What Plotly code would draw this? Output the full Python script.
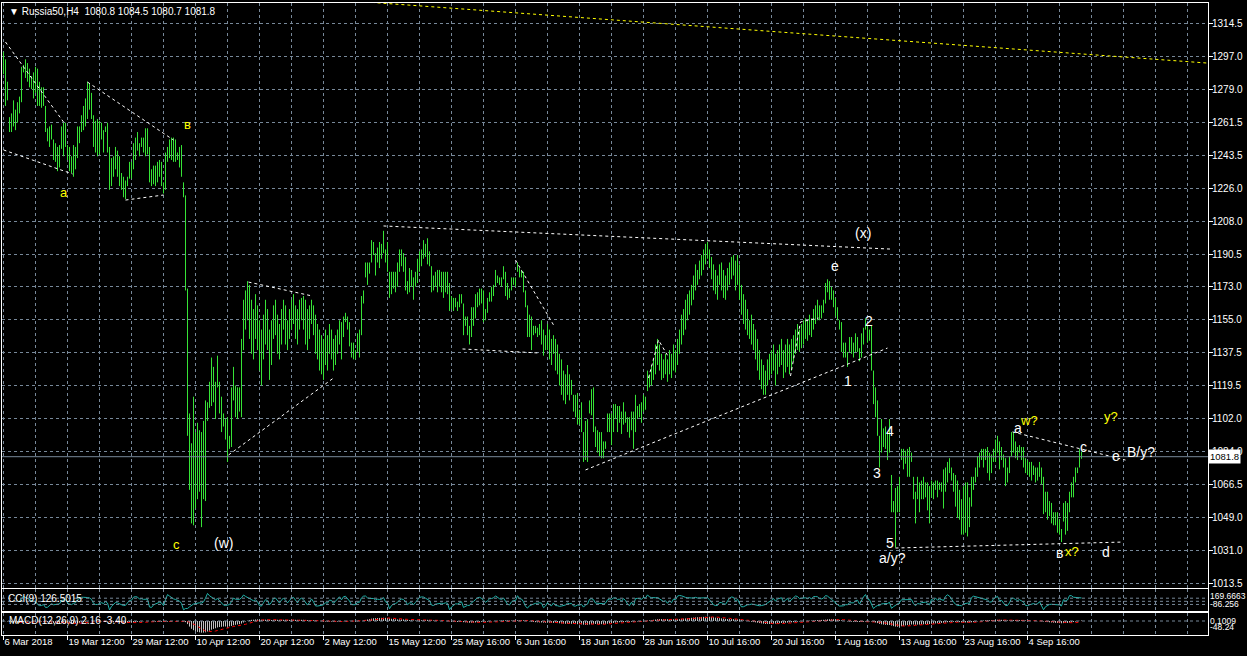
import numpy as np
import plotly.graph_objects as go

# ---------------- data ----------------
symbol = "Russia50,H4"
last_ohlc = [1080.8, 1084.5, 1080.7, 1081.8]
cci_last = "126.5015"
macd_last = ["2.16", "-3.40"]

highs = [
 1299,1295,1283,1264,1266,1273,1268,1272,1275,1291, 1292,1295,1293,1290,1286,1288,1291,1290,1283,1280,
 1280,1270,1258,1259,1260,1252,1250,1248,1249,1259, 1261,1261,1249,1248,1243,1249,1248,1259,1259,1265,
 1270,1274,1283,1282,1277,1265,1262,1263,1262,1261, 1257,1259,1261,1248,1242,1243,1248,1246,1243,1234,
 1232,1230,1232,1240,1240,1250,1253,1256,1250,1253, 1253,1258,1258,1248,1236,1238,1238,1240,1241,1240,
 1229,1245,1248,1252,1253,1253,1252,1245,1248,1249, 1229,1222,1172,1105,1089,1114,1095,1100,1096,1095,
 1101,1112,1111,1122,1135,1130,1122,1136,1122,1114, 1105,1102,1103,1093,1119,1130,1120,1119,1119,1145,
 1166,1171,1176,1174,1166,1161,1169,1163,1155,1150, 1158,1166,1161,1150,1155,1163,1166,1158,1153,1161,
 1166,1163,1155,1161,1166,1169,1163,1161,1166,1167, 1168,1166,1161,1163,1166,1163,1158,1153,1150,1147,
 1145,1150,1147,1153,1150,1145,1147,1150,1155,1154, 1157,1159,1157,1154,1143,1143,1139,1148,1150,1168,
 1171,1186,1186,1186,1198,1197,1191,1194,1197,1196, 1203,1193,1197,1181,1181,1181,1181,1186,1193,1193,
 1191,1189,1176,1183,1182,1178,1181,1188,1192,1193, 1198,1196,1199,1192,1184,1179,1181,1182,1182,1181,
 1181,1181,1181,1175,1168,1167,1167,1165,1169,1169, 1164,1157,1157,1152,1162,1162,1169,1170,1172,1172,
 1171,1161,1167,1170,1173,1174,1182,1179,1178,1178, 1184,1181,1175,1172,1178,1178,1178,1186,1183,1182,
 1181,1171,1163,1158,1157,1152,1152,1151,1153,1155, 1150,1147,1153,1150,1145,1147,1145,1142,1137,1134,
 1128,1126,1131,1126,1123,1115,1115,1116,1107,1111, 1095,1101,1102,1112,1118,1119,1098,1096,1095,1095,
 1090,1090,1105,1105,1105,1110,1110,1109,1109,1106, 1111,1106,1103,1103,1106,1106,1115,1109,1110,1111,
 1115,1114,1128,1126,1131,1134,1142,1145,1142,1137, 1134,1137,1134,1139,1137,1142,1139,1145,1150,1158,
 1161,1166,1169,1171,1174,1179,1185,1182,1187,1190, 1193,1196,1197,1193,1189,1185,1182,1179,1185,1186,
 1182,1179,1183,1186,1189,1190,1187,1190,1185,1174, 1169,1166,1161,1155,1158,1153,1150,1145,1139,1134,
 1131,1128,1134,1137,1139,1142,1137,1139,1142,1145, 1139,1142,1145,1142,1145,1147,1150,1153,1150,1153,
 1155,1156,1155,1158,1156,1161,1163,1166,1163,1163, 1166,1175,1177,1176,1173,1171,1167,1162,1155,1154,
 1143,1143,1138,1146,1146,1143,1148,1146,1140,1148, 1151,1156,1152,1150,1152,1128,1119,1112,1093,1102,
 1097,1098,1095,1102,1072,1058,1065,1066,1071,1086, 1086,1085,1086,1087,1084,1071,1063,1071,1068,1069,
 1071,1068,1068,1066,1069,1068,1069,1069,1068,1068, 1075,1076,1079,1081,1076,1073,1072,1069,1064,1059,
 1066,1068,1068,1060,1071,1071,1076,1082,1084,1086, 1086,1086,1087,1084,1083,1086,1091,1093,1090,1087,
 1083,1081,1076,1082,1095,1095,1090,1087,1088,1087, 1087,1081,1080,1079,1079,1077,1076,1076,1079,1076,
 1071,1063,1063,1058,1057,1052,1052,1052,1048,1043, 1057,1058,1057,1063,1068,1071,1076,1076,1086,1084.5,
]
lows = [
 1287,1270,1273,1256,1256,1259,1257,1261,1266,1272, 1288,1285,1283,1280,1279,1274,1277,1270,1270,1269,
 1270,1256,1251,1248,1252,1241,1240,1235,1237,1247, 1243,1248,1241,1235,1234,1232,1236,1242,1250,1256,
 1257,1259,1263,1268,1263,1248,1245,1243,1244,1252, 1245,1256,1245,1225,1227,1232,1236,1232,1227,1225,
 1221,1220,1227,1231,1231,1236,1241,1246,1243,1248, 1245,1243,1244,1229,1227,1228,1227,1229,1232,1227,
 1223,1225,1240,1242,1241,1240,1240,1241,1237,1232, 1221,1171,1093,1064,1046,1045,1054,1059,1063,1044,
 1059,1058,1101,1108,1109,1111,1102,1119,1105,1095, 1098,1091,1079,1086,1087,1112,1103,1102,1106,1103,
 1139,1150,1155,1145,1137,1134,1145,1139,1128,1120, 1134,1142,1139,1123,1131,1145,1147,1137,1134,1142,
 1150,1142,1139,1145,1150,1153,1145,1142,1150,1155, 1150,1142,1139,1145,1153,1147,1137,1134,1128,1126,
 1123,1131,1128,1137,1134,1128,1131,1137,1142,1134, 1146,1154,1150,1141,1135,1134,1134,1138,1135,1147,
 1164,1178,1174,1180,1186,1190,1179,1186,1183,1188, 1191,1186,1181,1167,1169,1172,1170,1173,1181,1184,
 1181,1171,1169,1170,1173,1166,1173,1175,1181,1184, 1188,1189,1185,1184,1170,1171,1173,1170,1173,1170,
 1167,1170,1169,1160,1161,1160,1162,1160,1162,1164, 1147,1152,1147,1142,1146,1152,1156,1162,1163,1164,
 1154,1155,1159,1165,1165,1168,1173,1175,1174,1173, 1177,1168,1166,1167,1171,1174,1173,1181,1178,1178,
 1170,1162,1146,1146,1139,1147,1148,1146,1147,1142, 1136,1139,1139,1134,1131,1137,1128,1126,1120,1115,
 1112,1110,1115,1112,1115,1106,1103,1099,1099,1095, 1079,1080,1079,1105,1104,1095,1087,1084,1082,1081,
 1081,1086,1095,1095,1088,1095,1102,1095,1100,1094, 1099,1100,1095,1092,1096,1086,1095,1102,1103,1100,
 1106,1107,1117,1119,1120,1123,1126,1131,1128,1123, 1124,1126,1122,1126,1124,1128,1127,1131,1137,1142,
 1147,1150,1155,1158,1163,1166,1171,1174,1177,1179, 1182,1185,1188,1183,1177,1171,1169,1166,1174,1171,
 1167,1166,1171,1174,1177,1179,1171,1174,1166,1158, 1153,1150,1147,1145,1142,1139,1134,1128,1123,1118,
 1115,1115,1120,1123,1126,1128,1120,1126,1130,1131, 1124,1127,1130,1126,1128,1133,1137,1139,1138,1140,
 1142,1145,1144,1147,1146,1150,1153,1155,1155,1156, 1159,1164,1170,1166,1166,1162,1157,1155,1150,1138,
 1135,1135,1130,1138,1137,1135,1138,1138,1133,1135, 1142,1150,1143,1144,1128,1110,1103,1093,1076,1084,
 1087,1086,1080,1084,1052,1052,1033,1052,1052,1080, 1075,1078,1071,1071,1079,1059,1046,1059,1052,1059,
 1059,1060,1053,1046,1060,1059,1064,1060,1064,1063, 1054,1063,1068,1073,1069,1063,1055,1049,1048,1040,
 1040,1041,1039,1044,1055,1064,1068,1071,1076,1080, 1076,1080,1073,1069,1073,1079,1079,1084,1075,1080,
 1076,1066,1068,1073,1082,1084,1081,1080,1084,1080, 1076,1073,1072,1071,1069,1072,1068,1069,1071,1067,
 1051,1052,1048,1050,1046,1045,1045,1041,1040,1036, 1047,1040,1042,1052,1060,1060,1068,1073,1076,1080.7,
]

price_tick_labels = ["1314.5", "1297.0", "1279.0", "1261.5", "1243.5", "1226.0", "1208.0",
                     "1190.5", "1173.0", "1155.0", "1137.5", "1119.5", "1102.0", "1084.0",
                     "1066.5", "1049.0", "1031.0", "1013.5"]
date_labels = ["6 Mar 2018", "19 Mar 12:00", "29 Mar 12:00", "10 Apr 12:00", "20 Apr 12:00",
               "2 May 12:00", "15 May 12:00", "25 May 16:00", "6 Jun 16:00", "18 Jun 16:00",
               "28 Jun 16:00", "10 Jul 16:00", "20 Jul 16:00", "1 Aug 16:00", "13 Aug 16:00",
               "23 Aug 16:00", "4 Sep 16:00"]

# hand-drawn trend lines (bar index, price)
trend_idx = [[1, 30], [42, 85], [0, 34.5], [61, 80], [112.5, 165], [122.5, 154.5],
             [190, 443.5], [229.5, 268.5], [256, 275], [291, 442],
             [322.5, 327.5, 332.5], [393.5, 398.5, 407.5], [504.5, 561], [446, 559.5]]
trend_price = [[1304.3, 1261.4], [1282.8, 1251.7], [1246.4, 1233.5], [1219.5, 1222.2],
               [1082.7, 1124.0], [1175.5, 1168.0], [1205.6, 1193.2], [1139.6, 1137.4],
               [1187.3, 1152.5], [1074.7, 1140.1], [1124.0, 1144.4, 1135.3],
               [1125.1, 1154.1, 1156.2], [1095.1, 1080.0], [1032.8, 1036.0]]
yellow_idx = [181, 602]
yellow_price = [1325.8, 1293.0]

# wave labels
wave_text = ["a", "в", "c", "(w)", "(x)", "e", "2", "1", "4", "3", "5", "a/y?", "a", "w?",
             "y?", "c", "e", "В/y?", "в", "x?", "d"]
wave_idx = [30, 92, 86.5, 110, 429.5, 415.5, 432.5, 422, 443, 436.5, 443, 444.5, 507, 512.5,
            553.5, 540, 556, 568.5, 528, 534, 551]
wave_price = [1223.3, 1259.8, 1034.9, 1035.5, 1201.8, 1184.1, 1154.6, 1122.4, 1095.6, 1073.1,
              1035.5, 1027.5, 1097.2, 1101.0, 1103.6, 1087.0, 1082.2, 1084.3, 1030.1, 1030.7,
              1030.7]
wave_is_yellow = [1, 1, 1, 0, 0, 0, 0, 0, 0, 0, 0, 0, 0, 1, 1, 0, 0, 0, 0, 1, 0]

# ---------------- indicators computed from the bars ----------------
H = np.array(highs, dtype=float)
L = np.array(lows, dtype=float)
n = len(H)
idx = np.arange(n)
tp = (H + L) / 2.0

cci = np.full(n, np.nan)
for t in range(8, n):
    w = tp[t - 8:t + 1]
    m = w.mean()
    md = np.abs(w - m).mean()
    cci[t] = (tp[t] - m) / (0.015 * md) if md > 0 else 0.0

def ema(x, p):
    out = np.empty_like(x)
    a = 2.0 / (p + 1)
    out[0] = x[0]
    for k in range(1, len(x)):
        out[k] = a * x[k] + (1 - a) * out[k - 1]
    return out

macd = ema(tp, 12) - ema(tp, 26)
signal = np.full(n, np.nan)
for t in range(8, n):
    signal[t] = macd[t - 8:t + 1].mean()

# ---------------- figure ----------------
GRID = "#778899"
FONT = "Liberation Sans, Arial, sans-serif"
fig = go.Figure()

bx, by = [], []
for i in range(n):
    bx += [i, i, None]
    by += [L[i], H[i], None]
fig.add_trace(go.Scatter(x=bx, y=by, mode="lines", line=dict(color="#36E336", width=1),
                         hoverinfo="skip", xaxis="x", yaxis="y"))

for ti, tpz in zip(trend_idx, trend_price):
    fig.add_trace(go.Scatter(x=ti, y=tpz, mode="lines",
                             line=dict(color="white", width=1, dash="3px,3px"),
                             hoverinfo="skip", xaxis="x", yaxis="y"))
fig.add_trace(go.Scatter(x=yellow_idx, y=yellow_price, mode="lines",
                         line=dict(color="#FFFF00", width=1, dash="3px,3px"),
                         hoverinfo="skip", xaxis="x", yaxis="y"))

# CCI
fig.add_trace(go.Scatter(x=idx, y=cci, mode="lines", line=dict(color="#20B2AA", width=1),
                         hoverinfo="skip", xaxis="x2", yaxis="y2"))
# MACD histogram + signal
hx, hy = [], []
for i in range(n):
    hx += [i, i, None]
    hy += [0, macd[i], None]
fig.add_trace(go.Scatter(x=hx, y=hy, mode="lines", line=dict(color="#C0C0C0", width=1),
                         hoverinfo="skip", xaxis="x3", yaxis="y3"))
fig.add_trace(go.Scatter(x=idx, y=signal, mode="lines",
                         line=dict(color="#FF0000", width=1, dash="3px,3px"),
                         hoverinfo="skip", xaxis="x3", yaxis="y3"))

# price line
fig.add_shape(type="line", xref="x domain", x0=0, x1=1, yref="y", y0=last_ohlc[3],
              y1=last_ohlc[3], line=dict(color=GRID, width=1))
# CCI / MACD level lines
for lv in [100, 0, -100]:
    fig.add_shape(type="line", xref="x2 domain", x0=0, x1=1, yref="y2", y0=lv, y1=lv,
                  line=dict(color=GRID, width=1, dash="3px,3px"))
fig.add_shape(type="line", xref="x3 domain", x0=0, x1=1, yref="y3", y0=0, y1=0,
              line=dict(color=GRID, width=1, dash="3px,3px"))

ann = []
for t, xi, pv, yl in zip(wave_text, wave_idx, wave_price, wave_is_yellow):
    ann.append(dict(x=xi, y=pv, xref="x", yref="y", text=t, showarrow=False,
                    xanchor="center", yanchor="middle",
                    font=dict(family=FONT, size=13 if yl else 14,
                              color="#FFFF00" if yl else "white")))
ann.append(dict(x=0.004, y=1, xref="paper", yref="paper", xanchor="left", yanchor="top",
                yshift=-1, showarrow=False,
                text="▼ " + symbol + "  " + " ".join(f"{v:.1f}" for v in last_ohlc),
                font=dict(family=FONT, size=10, color="white")))
ann.append(dict(x=0.003, y=0.55, xref="paper", yref="y2 domain", xanchor="left",
                yanchor="middle", showarrow=False, text="CCI(9) " + cci_last,
                font=dict(family=FONT, size=10, color="white")))
ann.append(dict(x=0.004, y=0.64, xref="paper", yref="y3 domain", xanchor="left",
                yanchor="middle", showarrow=False,
                text="MACD(12,26,9) " + " ".join(macd_last),
                font=dict(family=FONT, size=10, color="white")))
for v, t in [(169.6663, "169.6663"), (-86.256, "-86.256")]:
    ann.append(dict(x=1, y=v, xref="paper", yref="y2", xanchor="left", yanchor="middle",
                    xshift=1, showarrow=False, text=t, borderpad=0,
                    font=dict(family=FONT, size=8.5, color="white")))
ann.append(dict(x=1, y=0.1009, xref="paper", yref="y3", xanchor="left", yanchor="middle",
                xshift=1, showarrow=False, text="0.1009", borderpad=0,
                font=dict(family=FONT, size=8.5, color="white")))
ann.append(dict(x=1, y=-48.24, xref="paper", yref="y3", xanchor="left", yanchor="bottom",
                xshift=1, showarrow=False, text="-48.24", borderpad=0,
                font=dict(family=FONT, size=8.5, color="white")))
ann.append(dict(x=1, y=last_ohlc[3], xref="paper", yref="y", xanchor="left",
                yanchor="middle", xshift=0, showarrow=False, text=f"{last_ohlc[3]:.1f}",
                bgcolor="white", borderpad=1,
                font=dict(family=FONT, size=9.5, color="black")))

xr = [-0.75, 602.25]
xcommon = dict(range=xr, showgrid=True, gridcolor=GRID, griddash="3px,3px", gridwidth=1,
               zeroline=False, showline=True, mirror=True, linecolor="white", linewidth=1,
               automargin=False)
ycommon = dict(zeroline=False, showline=True, mirror=True, linecolor="white", linewidth=1,
               side="right", automargin=False)

fig.update_layout(
    width=1247, height=656, margin=dict(l=2, r=39, t=3, b=21, autoexpand=False),
    paper_bgcolor="black", plot_bgcolor="black", showlegend=False, hovermode=False,
    annotations=ann,
    xaxis=dict(**xcommon, anchor="y", tick0=0, dtick=16, showticklabels=False, ticks=""),
    xaxis2=dict(**xcommon, anchor="y2", matches="x", tick0=0, dtick=16,
                showticklabels=False, ticks=""),
    xaxis3=dict(**xcommon, anchor="y3", matches="x", tickmode="array",
                tickvals=[32 * k for k in range(len(date_labels))], ticktext=date_labels,
                ticks="outside", ticklen=4, tickcolor="white", tickangle=0,
                ticklabelposition="outside right", ticklabelstandoff=-2,
                tickfont=dict(family=FONT, size=9.5, color="white"),
                minor=dict(tick0=0, dtick=16, showgrid=True, gridcolor=GRID,
                           griddash="3px,3px", ticks="")),
    yaxis=dict(**ycommon, domain=[0.07437, 1.0], range=[1011.35, 1325.23],
               tickmode="array", tickvals=list(np.linspace(1314.5, 1013.5, 18)),
               ticktext=price_tick_labels, ticks="outside", ticklen=4, tickcolor="white",
               ticklabelstandoff=-3,
               showgrid=True, gridcolor=GRID, griddash="3px,3px",
               tickfont=dict(family=FONT, size=10, color="white")),
    yaxis2=dict(**ycommon, domain=[0.03797, 0.07278], range=[-310, 394],
                showgrid=False, showticklabels=False, ticks=""),
    yaxis3=dict(**ycommon, domain=[0.0, 0.03481], range=[-55, 31.4],
                showgrid=False, showticklabels=False, ticks=""),
)

fig.write_html("out.html", config={"displayModeBar": False, "staticPlot": True},
               post_script="document.body.style.margin='0px';"
                           "document.body.style.background='black';")
